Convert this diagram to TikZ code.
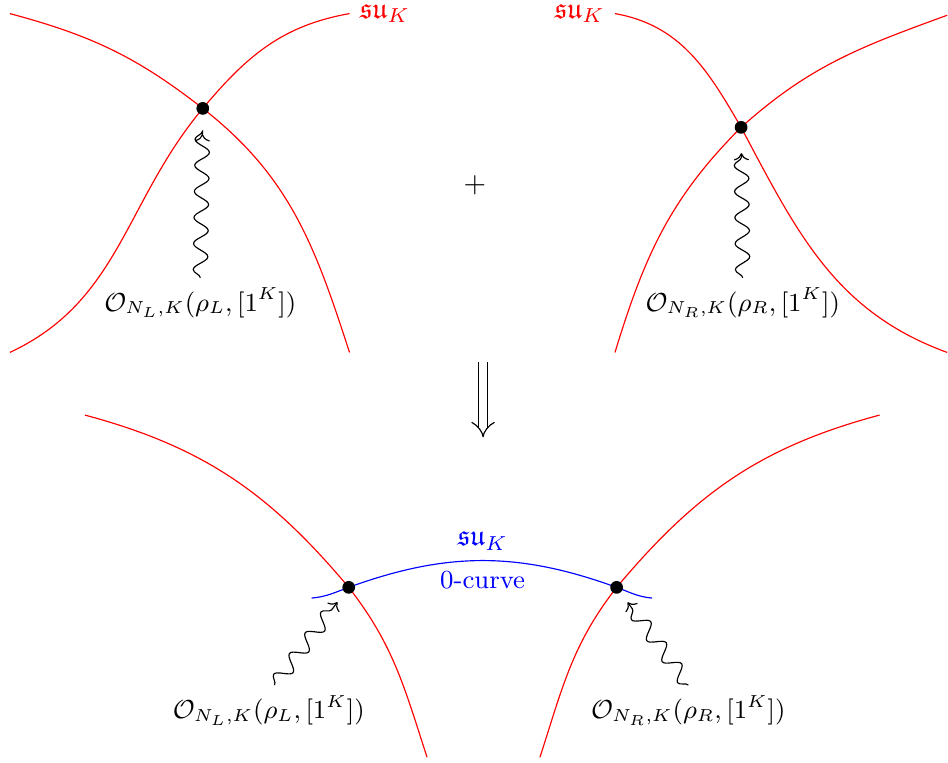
\documentclass[tikz,border=0pt]{standalone}
\usepackage{amssymb}
\usepackage{tikz}
\usetikzlibrary{arrows.meta,decorations.pathmorphing}

\begin{document}
\begin{tikzpicture}[
  dot/.style={circle, fill=black, inner sep=0pt, minimum size=4.4pt},
  brane/.style={red},
  zerocurve/.style={blue},
  oplabel/.style={font=\small},
  wavy/.style={->, decorate, decoration={snake, amplitude=2.5pt, segment length=9pt, post length=4pt}},
  imply/.style={double, double distance=2.5pt, -{Implies}},
]
\useasboundingbox (0,0) rectangle (11.5,9.255);

% Left configuration (top)
\coordinate (pL) at (2.46,7.94);
\coordinate (aL1) at (0.12,9.09);
\coordinate (aL2) at (4.24,4.98);
\coordinate (bL1) at (0.12,4.98);
\coordinate (bL2) at (4.24,9.09);
\draw[brane] (aL1) to[out=-15,in=142] (pL) to[out=-38,in=108] (aL2);
\draw[brane] (bL1) to[out=25,in=-130] (pL) to[out=50,in=190] (bL2)
  node[right, text=red] (suL) {$\mathfrak{su}_K$};
\node[dot] (vL) at (pL) {};
\node[oplabel] (opL) at (2.43,5.58) {$\mathcal{O}_{N_L,K}(\rho_L,[1^K])$};
\draw[wavy, shorten >=6.5pt] (opL.north) -- (vL);

% plus sign
\node (plus) at (5.76,7.01) {$+$};

% Right configuration (top)
\coordinate (pR) at (8.99,7.71);
\coordinate (aR1) at (7.46,9.09);
\coordinate (aR2) at (11.49,4.98);
\coordinate (bR1) at (7.46,4.98);
\coordinate (bR2) at (11.49,9.07);
\draw[brane] (aR1) node[left, text=red] (suR) {$\mathfrak{su}_K$}
  to[out=-10,in=120] (pR) to[out=-62,in=160] (aR2);
\draw[brane] (bR1) to[out=73,in=-135] (pR) to[out=42,in=-160] (bR2);
\node[dot] (vR) at (pR) {};
\node[oplabel] (opR) at (9.01,5.58) {$\mathcal{O}_{N_R,K}(\rho_R,[1^K])$};
\draw[wavy, shorten >=6.5pt] (opR.north) -- (vR);

% implication
\coordinate (impA) at (5.86,4.86);
\coordinate (impB) at (5.86,3.95);
\draw[imply] (impA) -- (impB);

% Glued configuration (bottom)
\coordinate (qL) at (4.23,2.13);
\coordinate (qR) at (7.48,2.13);
\coordinate (cL1) at (1.03,4.22);
\coordinate (cL2) at (5.18,0.07);
\coordinate (cR1) at (6.55,0.07);
\coordinate (cR2) at (10.67,4.22);
\coordinate (zL) at (3.78,2.00);
\coordinate (zR) at (7.91,2.00);
\draw[brane] (cL1) to[out=-15,in=130] (qL) to[out=-52,in=108] (cL2);
\draw[brane] (cR1) to[out=72,in=-128] (qR) to[out=50,in=-165] (cR2);
\draw[zerocurve] (zL) to[out=5,in=200] (qL)
  to[out=20,in=160] node[above, text=blue] (suM) {$\mathfrak{su}_K$}
                    node[below, text=blue, oplabel] (zc) {0-curve} (qR)
  to[out=-20,in=175] (zR);
\node[dot] (wL) at (qL) {};
\node[dot] (wR) at (qR) {};
\node[oplabel] (oBL) at (3.26,0.64) {$\mathcal{O}_{N_L,K}(\rho_L,[1^K])$};
\node[oplabel] (oBR) at (8.35,0.64) {$\mathcal{O}_{N_R,K}(\rho_R,[1^K])$};
\draw[wavy, shorten >=4pt] ([xshift=2pt]oBL.north) -- (wL);
\draw[wavy, shorten >=4pt] (oBR.north) -- (wR);

\end{tikzpicture}
\end{document}
